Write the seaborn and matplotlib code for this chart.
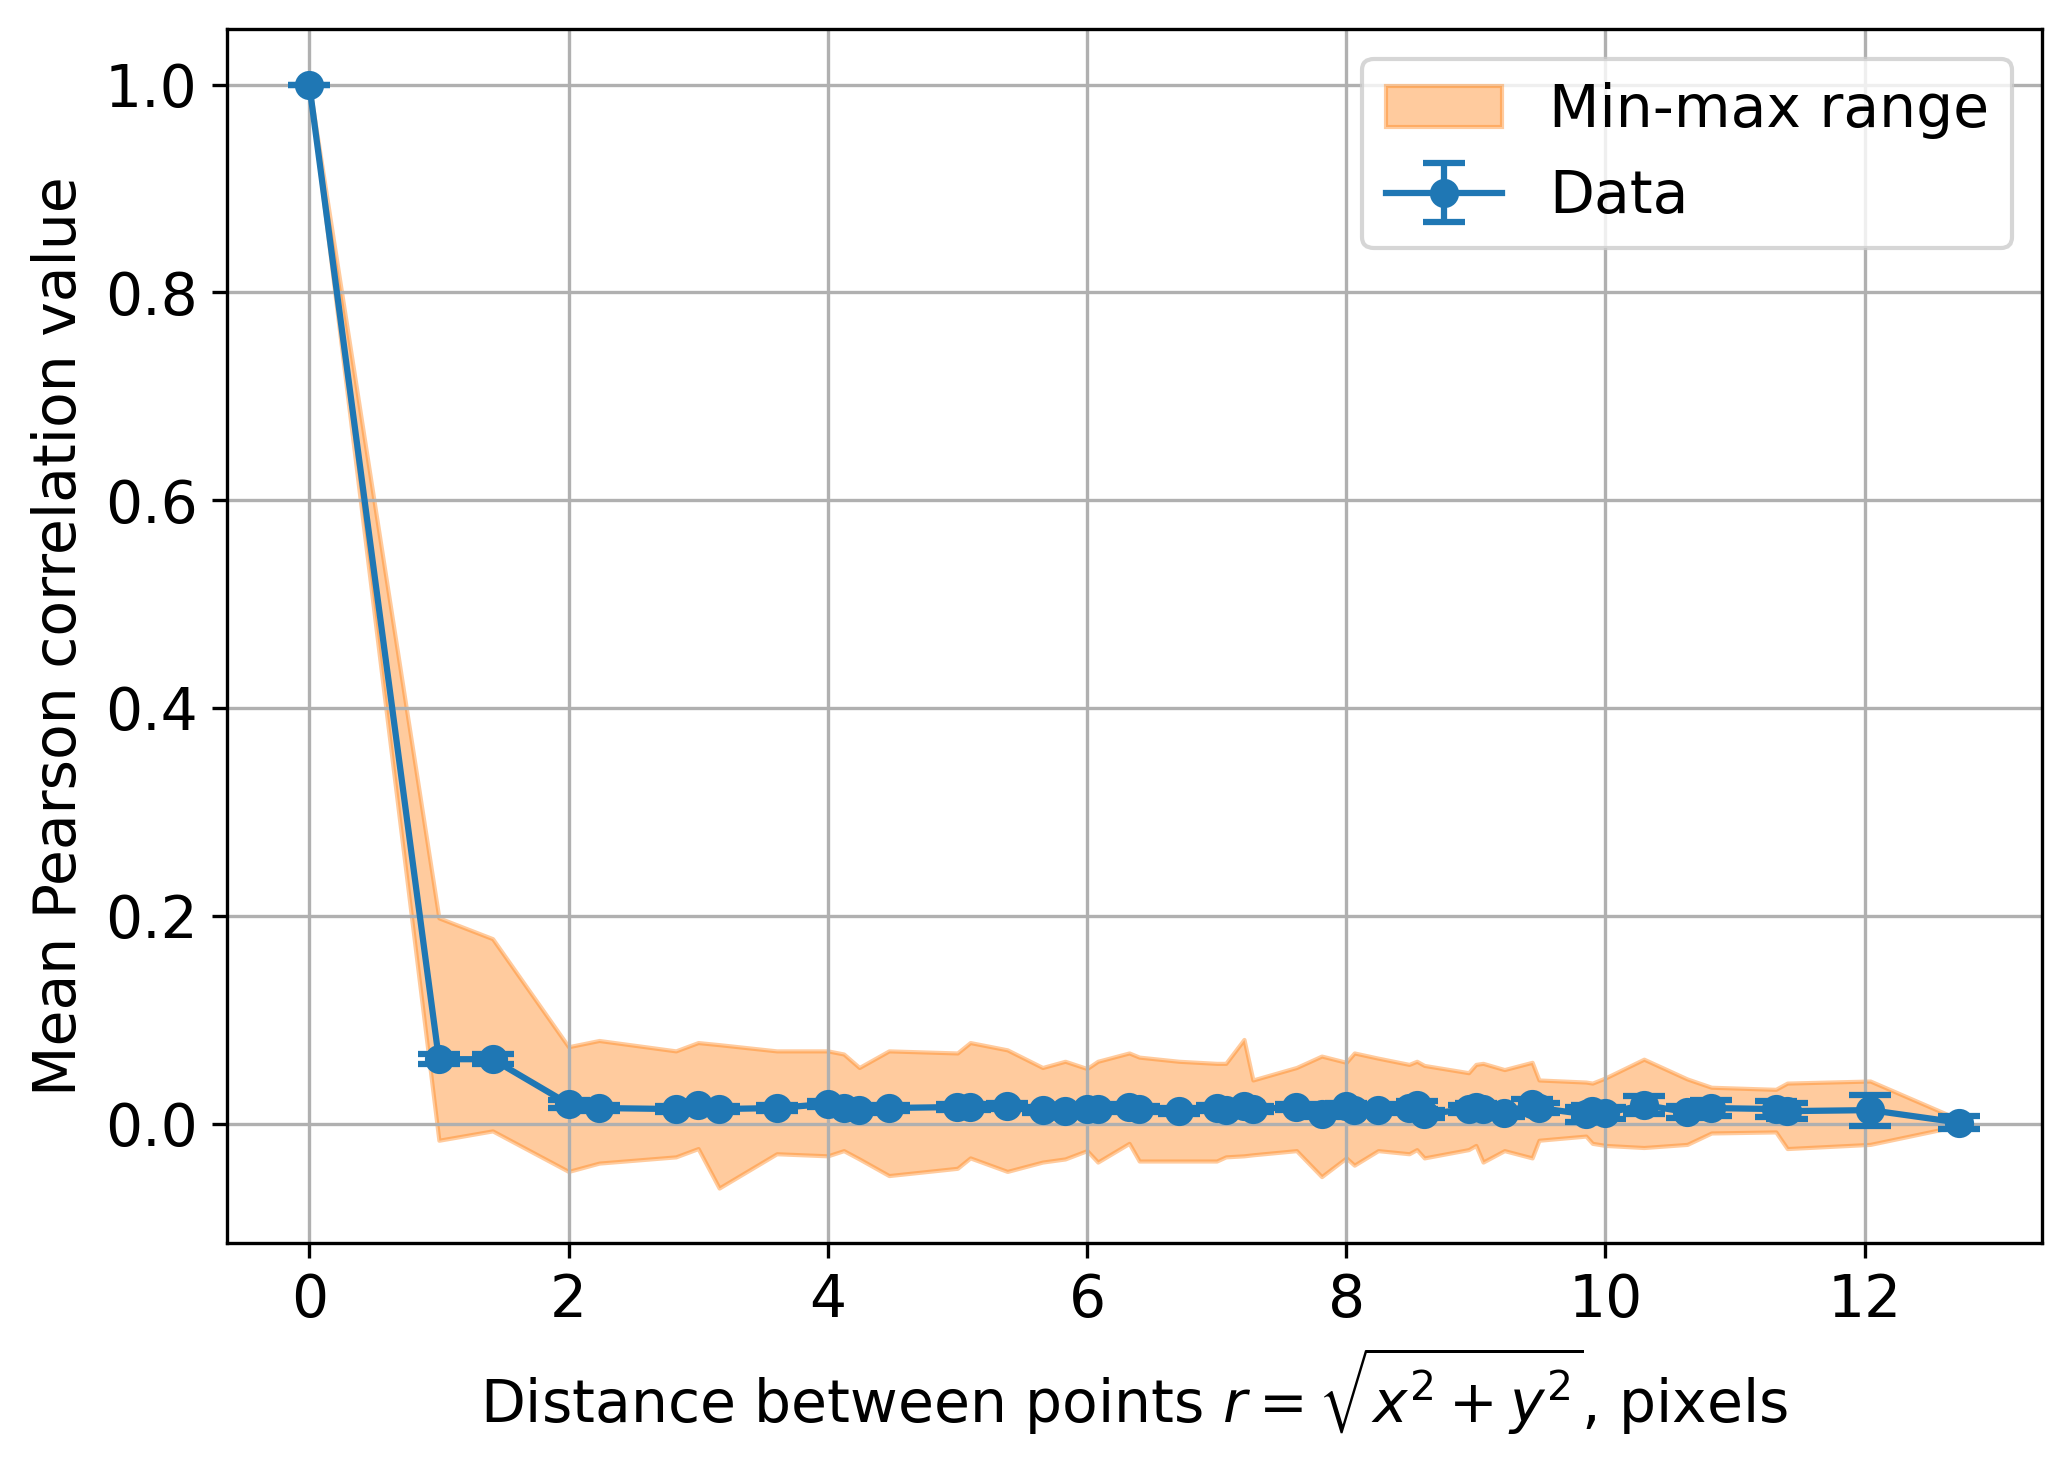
import numpy as np
import pandas as pd
import seaborn as sns
import matplotlib.pyplot as plt

# --- Data ---
# distances sqrt(x^2 + y^2) for integer offsets 0..9
DISTANCES = [0.000, 1.000, 1.414, 2.000, 2.236, 2.828, 3.000, 3.162, 3.606,
             4.000, 4.123, 4.243, 4.472, 5.000, 5.099, 5.385, 5.657, 5.831,
             6.000, 6.083, 6.325, 6.403, 6.708, 7.000, 7.071, 7.211, 7.280,
             7.616, 7.810, 8.000, 8.062, 8.246, 8.485, 8.544, 8.602, 8.944,
             9.000, 9.055, 9.220, 9.434, 9.487, 9.849, 9.899, 10.000, 10.296,
             10.630, 10.817, 11.314, 11.402, 12.042, 12.728]

MEAN_CORR = [1.000, 0.062, 0.062, 0.019, 0.015, 0.014, 0.018, 0.014, 0.015,
             0.019, 0.015, 0.013, 0.015, 0.016, 0.016, 0.017, 0.013, 0.012,
             0.014, 0.014, 0.016, 0.014, 0.012, 0.015, 0.013, 0.017, 0.014,
             0.016, 0.009, 0.017, 0.013, 0.013, 0.015, 0.018, 0.009, 0.014,
             0.016, 0.014, 0.010, 0.019, 0.015, 0.009, 0.012, 0.010, 0.018,
             0.011, 0.015, 0.014, 0.012, 0.013, 0.001]

MIN_CORR = [1.000, -0.016, -0.007, -0.046, -0.038, -0.032, -0.024, -0.062, -0.029,
            -0.031, -0.026, -0.034, -0.050, -0.043, -0.033, -0.046, -0.037, -0.034,
            -0.026, -0.037, -0.019, -0.036, -0.036, -0.036, -0.032, -0.031, -0.030,
            -0.026, -0.051, -0.033, -0.040, -0.026, -0.029, -0.025, -0.033, -0.025,
            -0.021, -0.037, -0.026, -0.033, -0.016, -0.012, -0.019, -0.021, -0.023,
            -0.020, -0.009, -0.008, -0.024, -0.020, -0.002]

MAX_CORR = [1.000, 0.198, 0.178, 0.074, 0.080, 0.070, 0.078, 0.076, 0.070,
            0.070, 0.067, 0.054, 0.070, 0.068, 0.078, 0.071, 0.054, 0.060,
            0.053, 0.060, 0.068, 0.064, 0.060, 0.058, 0.058, 0.081, 0.042,
            0.054, 0.065, 0.059, 0.068, 0.063, 0.057, 0.060, 0.056, 0.049,
            0.057, 0.058, 0.052, 0.059, 0.042, 0.040, 0.039, 0.044, 0.062,
            0.043, 0.035, 0.033, 0.039, 0.041, 0.004]

ERR_CORR = [0.000, 0.005, 0.005, 0.004, 0.003, 0.003, 0.003, 0.003, 0.003,
            0.003, 0.003, 0.003, 0.003, 0.003, 0.003, 0.003, 0.003, 0.003,
            0.003, 0.003, 0.003, 0.003, 0.003, 0.003, 0.003, 0.003, 0.003,
            0.003, 0.003, 0.003, 0.003, 0.003, 0.004, 0.004, 0.004, 0.004,
            0.004, 0.004, 0.004, 0.005, 0.005, 0.007, 0.006, 0.006, 0.009,
            0.006, 0.008, 0.008, 0.008, 0.015, 0.006]

df = pd.DataFrame({
    'r': DISTANCES,
    'mean': MEAN_CORR,
    'min': MIN_CORR,
    'max': MAX_CORR,
    'err': ERR_CORR,
})

# --- Plot ---
plt.rcParams['font.family'] = ['DejaVu Sans']
plt.rcParams['font.size'] = 14

fig, ax = plt.subplots(figsize=(2071 / 300, 1469 / 300), dpi=300)
fig.subplots_adjust(left=0.1095, right=0.9858, bottom=0.1537, top=0.980)

band = ax.fill_between(df['r'], df['min'], df['max'], color='C1', alpha=0.4,
                       label='Min-max range')

sns.lineplot(data=df, x='r', y='mean', marker='o', color='C0', linewidth=1.5,
             markersize=6, markeredgecolor='C0', markeredgewidth=1, ax=ax)
data_line = ax.lines[-1]

bars = ax.errorbar(df['r'], df['mean'], yerr=df['err'], fmt='none',
                   ecolor='C0', elinewidth=1.5, capsize=5, capthick=1.5)

ax.grid(True)
ax.set_xlabel(r'Distance between points $r=\sqrt{x^2+y^2}$, pixels')
ax.set_ylabel('Mean Pearson correlation value')
ax.legend([band, (data_line, bars)], ['Min-max range', 'Data'], loc='upper right')

plt.savefig('out.png', dpi=300)
plt.close()
